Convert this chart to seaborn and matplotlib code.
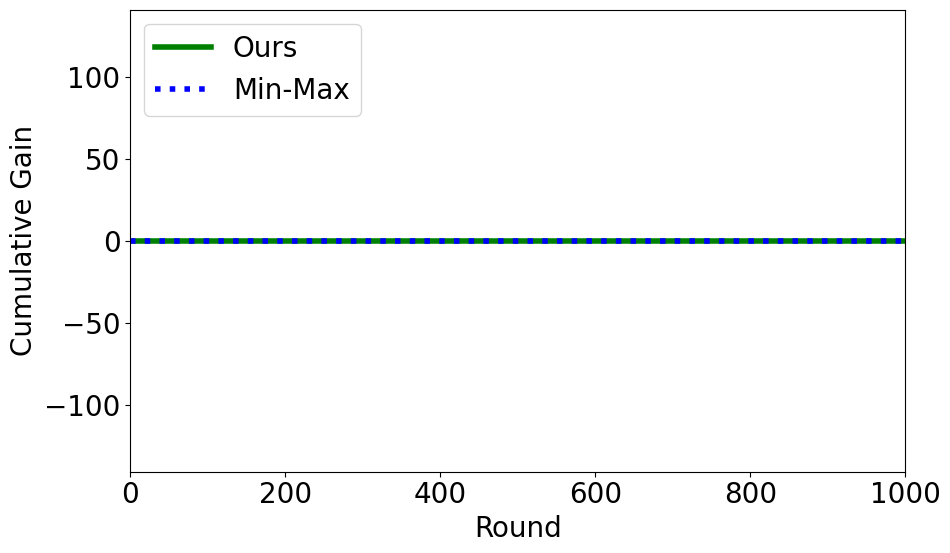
import pandas as pd
import matplotlib.pyplot as plt
import seaborn as sns

rounds = [0, 250, 500, 750, 1000]
ours_gain = [0, 0, 0, 0, 0]
minmax_gain = [0, 0, 0, 0, 0]

df = pd.DataFrame({"Round": rounds, "Ours": ours_gain, "Min-Max": minmax_gain})

sns.set_style("ticks", rc={
    "text.color": "black",
    "axes.labelcolor": "black",
    "axes.edgecolor": "black",
    "xtick.color": "black",
    "ytick.color": "black",
    "xtick.major.size": 3.5,
    "ytick.major.size": 3.5,
    "xtick.major.width": 0.8,
    "ytick.major.width": 0.8,
    "axes.linewidth": 0.8,
    "lines.solid_capstyle": "projecting",
})
plt.rcParams["font.family"] = ["DejaVu Sans"]
plt.rcParams["font.size"] = 20
plt.rcParams["xtick.major.pad"] = 3.5
plt.rcParams["ytick.major.pad"] = 3.5
plt.rcParams["legend.fancybox"] = True

fig, ax = plt.subplots(figsize=(9.5, 5.53), dpi=100)
sns.lineplot(data=df, x="Round", y="Ours", ax=ax, color="green", linewidth=4, label="Ours")
sns.lineplot(data=df, x="Round", y="Min-Max", ax=ax, color="blue", linewidth=4,
             linestyle=":", label="Min-Max")

ax.set_xlim(0, 1000)
ax.set_ylim(-141, 141)
ax.set_yticks([-100, -50, 0, 50, 100])
ax.set_xlabel("Round", fontsize=20)
ax.set_ylabel("Cumulative Gain", fontsize=20)
ax.tick_params(labelsize=20)
ax.legend(loc="upper left", fontsize=20, frameon=True)

plt.subplots_adjust(left=0.137, right=0.953, top=0.982, bottom=0.147)
plt.savefig("out.png", dpi=100)
